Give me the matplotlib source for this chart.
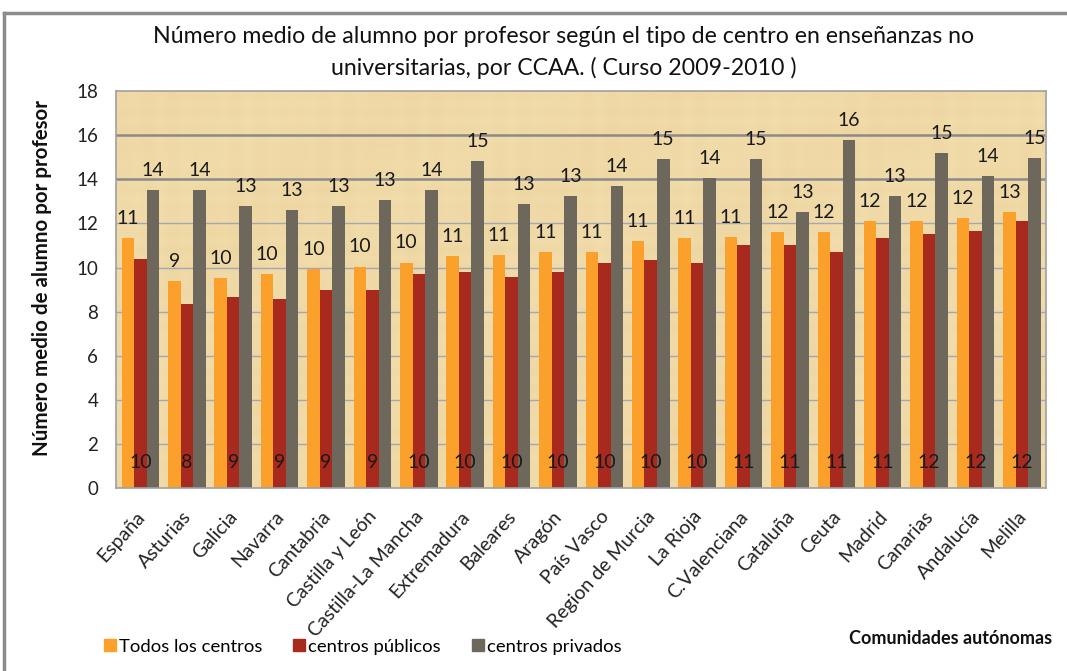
import matplotlib
matplotlib.use("Agg")
import matplotlib.pyplot as plt
from matplotlib.lines import Line2D
import matplotlib.transforms as mtransforms
import numpy as np

# Data: average number of pupils per teacher, school year 2009-2010
regiones = ["España", "Asturias", "Galicia", "Navarra", "Cantabria",
            "Castilla y León", "Castilla-La Mancha", "Extremadura", "Baleares",
            "Aragón", "País Vasco", "Region de Murcia", "La Rioja",
            "C.Valenciana", "Cataluña", "Ceuta", "Madrid", "Canarias",
            "Andalucía", "Melilla"]
todos = [11.33, 9.41, 9.52, 9.71, 9.94, 10.05, 10.23, 10.51, 10.57, 10.69,
         10.69, 11.21, 11.33, 11.39, 11.61, 11.61, 12.13, 12.13, 12.25, 12.52]
publicos = [10.39, 8.37, 8.67, 8.60, 9.00, 9.00, 9.70, 9.82, 9.58, 9.82,
            10.23, 10.35, 10.23, 11.04, 11.04, 10.69, 11.33, 11.52, 11.67, 12.13]
privados = [13.53, 13.53, 12.77, 12.59, 12.77, 13.06, 13.53, 14.81, 12.88, 13.24,
            13.70, 14.92, 14.04, 14.92, 12.52, 15.79, 13.24, 15.20, 14.16, 14.98]
y_ticks = [0, 2, 4, 6, 8, 10, 12, 14, 16, 18]

series_names = ["Todos los centros", "centros públicos", "centros privados"]
colors = ["#FBA02A", "#A8291E", "#6E675C"]

plt.rcParams["font.family"] = ["Lato", "DejaVu Sans"]

fig = plt.figure(figsize=(10.67, 6.71), dpi=100)
fig.patch.set_facecolor("white")

ax = fig.add_axes([0.1090, 0.2720, 0.9803 - 0.1090, 0.8644 - 0.2720])
ax.set_facecolor("#F2DDAC")

# parchment-like fill behind the bars: soft woven streaks
gx = np.linspace(0, 1, 600)
gy = np.linspace(0, 1, 260)
GX, GY = np.meshgrid(gx, gy)
weave = (0.5 * np.sin(GX * 2 * np.pi * 37) * np.sin(GX * 2 * np.pi * 5.3)
         + 0.5 * np.sin(GY * 2 * np.pi * 23) * np.sin(GY * 2 * np.pi * 3.1)
         + 0.4 * np.sin((GX * 1.7 + GY) * 2 * np.pi * 2.2))
base = np.array([242, 221, 172]) / 255.0
shade = np.array([228, 200, 140]) / 255.0
mix = (weave - weave.min()) / (weave.max() - weave.min())
tex = base[None, None, :] * (1 - 0.35 * mix[..., None]) + shade[None, None, :] * 0.35 * mix[..., None]
ax.imshow(tex, extent=(0, 1, 0, 1), transform=ax.transAxes, aspect="auto",
          zorder=0, interpolation="bilinear")

x = np.arange(len(regiones))
w = 0.27
for k, (vals, col) in enumerate(zip([todos, publicos, privados], colors)):
    ax.bar(x + (k - 1) * w, vals, width=w, color=col, zorder=3)

# value labels: orange and grey above the bars, red at the base
lab = dict(fontsize=14, color="#1a1a1a", zorder=4, ha="center")
for xi, v in zip(x, todos):
    ax.annotate(f"{v:.0f}", (xi - w, v), xytext=(0, 8), textcoords="offset points",
                va="bottom", **lab)
for xi, v in zip(x, privados):
    ax.annotate(f"{v:.0f}", (xi + w, v), xytext=(0, 8), textcoords="offset points",
                va="bottom", **lab)
for xi, v in zip(x, publicos):
    ax.annotate(f"{v:.0f}", (xi, 0), xytext=(0, 19), textcoords="offset points",
                va="center", **lab)

ax.set_xlim(-0.52, len(regiones) - 0.48)
ax.set_ylim(0, 18)
ax.set_yticks(y_ticks)
ax.set_yticklabels([str(t) for t in y_ticks])

# horizontal gridlines; the upper two are drawn heavier
for t in y_ticks[1:-1]:
    if t >= 14:
        ax.axhline(t, color="#8A8A8A", lw=1.8, zorder=2)
    else:
        ax.axhline(t, color="#A3A6B4", lw=1.0, zorder=2)

for s in ax.spines.values():
    s.set_color("#A0A0A0")
    s.set_linewidth(1.2)
    s.set_zorder(5)

ax.tick_params(axis="y", length=0, pad=13, labelsize=13.5, labelcolor="#222222")
ax.tick_params(axis="x", length=0, pad=14)
ax.set_xticks(x)
ax.set_xticklabels(regiones, rotation=48, ha="right", va="top",
                   rotation_mode="anchor", fontsize=14, color="#222222")
shift = mtransforms.ScaledTranslation(-5 / 100, 0, fig.dpi_scale_trans)
for t in ax.get_xticklabels():
    t.set_transform(t.get_transform() + shift)

ax.set_ylabel("Número medio de alumno por profesor", fontsize=14.8,
              fontweight="bold", color="#111111")
ax.yaxis.set_label_coords(-0.069, 0.53)

fig.text(0.528, 0.922,
         "Número medio de alumno por profesor según el tipo de centro en enseñanzas no\n"
         "universitarias, por CCAA. ( Curso 2009-2010 )",
         ha="center", va="center", fontsize=16.7,
         linespacing=1.55, color="#111111")

fig.text(0.986, 0.049, "Comunidades autónomas", ha="right", va="center",
         fontsize=13, fontweight="bold", color="#111111")

handles = [Line2D([0], [0], marker="s", ls="none", markersize=8,
                  markerfacecolor=c, markeredgecolor=c) for c in colors]
fig.legend(handles, series_names, loc="center left",
           bbox_to_anchor=(0.082, 0.036), ncol=3, frameon=False,
           handlelength=0.6, handletextpad=0.2, columnspacing=1.7,
           prop={"size": 13.3})

# outer chart frame
fig.add_artist(Line2D([4 / 1067, 4 / 1067], [0, 1 - 13 / 671],
                      transform=fig.transFigure, color="#8C8C8C", lw=2.5))
fig.add_artist(Line2D([4 / 1067, 1.0], [1 - 13 / 671, 1 - 13 / 671],
                      transform=fig.transFigure, color="#8C8C8C", lw=2.5))

fig.savefig("out.png", dpi=100)
